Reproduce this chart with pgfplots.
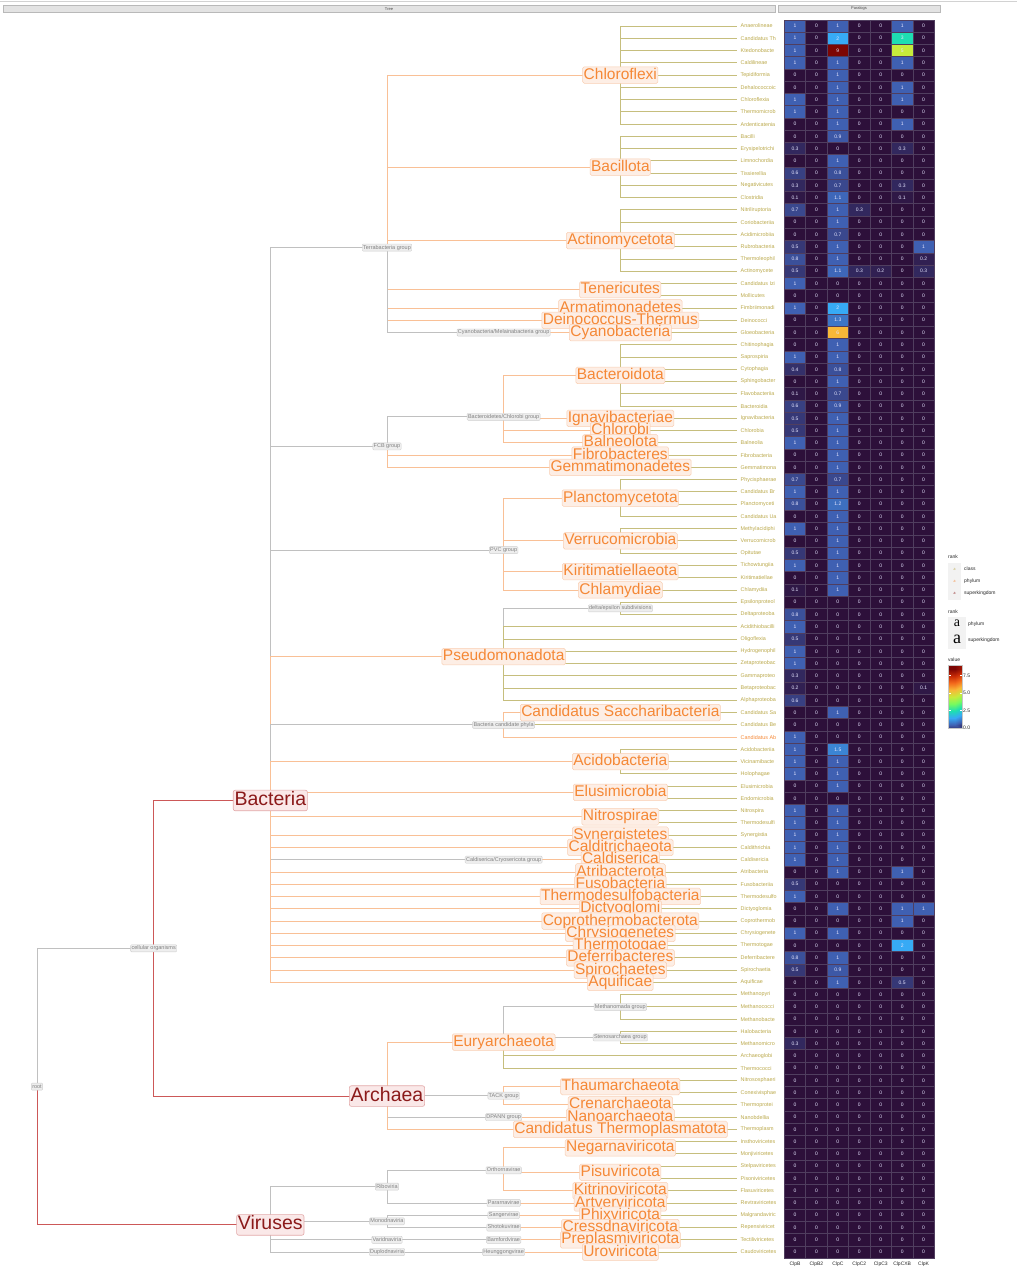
\documentclass[border=0pt]{standalone}
\usepackage{pgfplots}
\pgfplotsset{compat=1.18}
\usepackage{pgfplotstable}
\usepackage{fontspec}
\setmainfont{Liberation Sans}
\newfontfamily\keyserif{Liberation Serif}

\definecolor{skline}{RGB}{204,88,88}
\definecolor{phline}{RGB}{249,192,150}
\definecolor{clline}{RGB}{198,190,125}
\definecolor{nrline}{RGB}{192,192,192}
\definecolor{sktext}{RGB}{139,26,26}
\definecolor{skfill}{RGB}{250,232,232}
\definecolor{skbord}{RGB}{226,168,168}
\definecolor{phtext}{RGB}{245,136,54}
\definecolor{phfill}{RGB}{253,238,229}
\definecolor{phbord}{RGB}{249,206,178}
\definecolor{nrtext}{RGB}{128,128,128}
\definecolor{nrfill}{RGB}{238,238,238}
\definecolor{nrbord}{RGB}{206,206,206}
\definecolor{cltext}{RGB}{186,168,74}
\definecolor{cellline}{RGB}{80,62,95}

\pgfdeclareplotmark{cell}{%
  \pgfpathrectangle{\pgfqpoint{-10.714pt}{-6.13pt}}{\pgfqpoint{21.428pt}{12.26pt}}%
  \pgfusepathqfillstroke}
\pgfdeclareplotmark{blank}{}

\pgfplotsset{
  edgeSK/.style={draw=skline, line width=0.9pt, mark=none},
  edgePH/.style={draw=phline, line width=0.9pt, mark=none},
  edgeCL/.style={draw=clline, line width=0.9pt, mark=none},
  edgeNR/.style={draw=nrline, line width=0.9pt, mark=none},
  heatcells/.style={scatter, only marks, mark=cell, point meta=explicit,
    scatter/use mapped color={draw=cellline, fill=mapped color, line width=0.6pt}},
  heatnums/.style={only marks, mark=blank, point meta=explicit,
    nodes near coords,
    nodes near coords style={anchor=center, inner sep=0pt, text=white!90!blue,
      font=\fontsize{5}{5}\selectfont}},
  turbo/.style={colormap={turbo}{rgb255(0)=(45,16,58) rgb255(1)=(63,96,178) rgb255(2)=(55,170,245)
    rgb255(3)=(30,222,178) rgb255(4)=(118,250,96) rgb255(5)=(199,235,60)
    rgb255(6)=(248,184,56) rgb255(7)=(243,106,28) rgb255(8)=(200,42,6) rgb255(9)=(124,6,4)}},
}
\tikzset{
  skl/.style={fill=skfill, draw=skbord, text=sktext, font=\fontsize{19.5}{19.5}\selectfont,
    inner sep=1.3pt, rounded corners=2pt, line width=0.6pt, text height=14pt, text depth=4pt},
  phl/.style={fill=phfill, draw=phbord, text=phtext, font=\fontsize{15.5}{15.5}\selectfont,
    inner sep=1pt, rounded corners=1.5pt, line width=0.5pt, text height=11.3pt, text depth=3.2pt},
  nrl/.style={fill=nrfill, draw=nrbord, text=nrtext, font=\fontsize{5.5}{5.5}\selectfont,
    inner sep=0.9pt, rounded corners=1pt, line width=0.4pt, text height=4.1pt, text depth=1.2pt},
  lf/.style={anchor=west, text=cltext, font=\fontsize{5.4}{5.4}\selectfont, inner sep=0pt},
  lg/.style={anchor=west, font=\fontsize{5}{5}\selectfont, inner sep=0pt, text=black!85},
}

% tree edge: parent level, parent row, child level, child row
\newcommand{\tedge}[5]{\addplot[edge#1] coordinates {(#2,#3) (#2,#5) (#4,#5)};}
% class leaf hanging from a level-5 node
\newcommand{\lv}[2]{\addplot[edgeCL] coordinates {(5,#1) (5,#2) (6,#2)};}
\newcommand{\leaf}[2]{\node[lf] at (6.03,#1) {#2};}

% copy numbers per class (rows top to bottom)
\pgfplotstableread{
r   B    B2 C    C2   C3   CXB  K
1   1    0  1    0    0    1    0
2   1    0  2    0    0    3    0
3   1    0  9    0    0    5    0
4   1    0  1    0    0    1    0
5   0    0  1    0    0    0    0
6   0    0  1    0    0    1    0
7   1    0  1    0    0    1    0
8   1    0  1    0    0    0    0
9   0    0  1    0    0    1    0
10  0    0  0.9  0    0    0    0
11  0.3  0  0    0    0    0.3  0
12  0    0  1    0    0    0    0
13  0.6  0  0.8  0    0    0    0
14  0.3  0  0.7  0    0    0.3  0
15  0.1  0  1.1  0    0    0.1  0
16  0.7  0  1    0.3  0    0    0
17  0    0  1    0    0    0    0
18  0    0  0.7  0    0    0    0
19  0.5  0  1    0    0    0    1
20  0.8  0  1    0    0    0    0.2
21  0.5  0  1.1  0.3  0.2  0    0.3
22  1    0  0    0    0    0    0
23  0    0  0    0    0    0    0
24  1    0  2    0    0    0    0
25  0    0  1.3  0    0    0    0
26  0    0  6    0    0    0    0
27  0    0  1    0    0    0    0
28  1    0  1    0    0    0    0
29  0.4  0  0.8  0    0    0    0
30  0    0  1    0    0    0    0
31  0.1  0  0.7  0    0    0    0
32  0.6  0  0.9  0    0    0    0
33  0.5  0  1    0    0    0    0
34  0.5  0  1    0    0    0    0
35  1    0  1    0    0    0    0
36  0    0  1    0    0    0    0
37  0    0  1    0    0    0    0
38  0.7  0  0.7  0    0    0    0
39  1    0  1    0    0    0    0
40  0.8  0  1.2  0    0    0    0
41  0    0  1    0    0    0    0
42  1    0  1    0    0    0    0
43  0    0  1    0    0    0    0
44  0.5  0  1    0    0    0    0
45  1    0  1    0    0    0    0
46  0    0  1    0    0    0    0
47  0.1  0  1    0    0    0    0
48  0    0  0    0    0    0    0
49  0.8  0  0    0    0    0    0
50  1    0  0    0    0    0    0
51  0.5  0  0    0    0    0    0
52  1    0  0    0    0    0    0
53  1    0  0    0    0    0    0
54  0.3  0  0    0    0    0    0
55  0.2  0  0    0    0    0    0.1
56  0.6  0  0    0    0    0    0
57  0    0  1    0    0    0    0
58  0    0  0    0    0    0    0
59  1    0  0    0    0    0    0
60  1    0  1.5  0    0    0    0
61  1    0  1    0    0    0    0
62  1    0  1    0    0    0    0
63  0    0  1    0    0    0    0
64  0    0  0    0    0    0    0
65  1    0  1    0    0    0    0
66  1    0  1    0    0    0    0
67  1    0  1    0    0    0    0
68  1    0  1    0    0    0    0
69  1    0  1    0    0    0    0
70  0    0  1    0    0    1    0
71  0.5  0  0    0    0    0    0
72  1    0  0    0    0    0    0
73  0    0  1    0    0    1    1
74  0    0  0    0    0    1    0
75  1    0  1    0    0    0    0
76  0    0  0    0    0    2    0
77  0.8  0  1    0    0    0    0
78  0.5  0  0.9  0    0    0    0
79  0    0  1    0    0    0.5  0
80  0    0  0    0    0    0    0
81  0    0  0    0    0    0    0
82  0    0  0    0    0    0    0
83  0    0  0    0    0    0    0
84  0.3  0  0    0    0    0    0
85  0    0  0    0    0    0    0
86  0    0  0    0    0    0    0
87  0    0  0    0    0    0    0
88  0    0  0    0    0    0    0
89  0    0  0    0    0    0    0
90  0    0  0    0    0    0    0
91  0    0  0    0    0    0    0
92  0    0  0    0    0    0    0
93  0    0  0    0    0    0    0
94  0    0  0    0    0    0    0
95  0    0  0    0    0    0    0
96  0    0  0    0    0    0    0
97  0    0  0    0    0    0    0
98  0    0  0    0    0    0    0
99  0    0  0    0    0    0    0
100 0    0  0    0    0    0    0
101 0    0  0    0    0    0    0
}\heat

\begin{document}
\begin{tikzpicture}
\path[use as bounding box] (0pt,0pt) rectangle (1017pt,-1271pt);

% facet strips
\draw[gray!35, line width=1pt] (0pt,-1.5pt) -- (1017pt,-1.5pt);
\draw[fill=gray!22, draw=gray!55, line width=0.5pt] (3pt,-5pt) rectangle (775pt,-12.5pt);
\node[font=\fontsize{4}{4}\selectfont, text=black!70, inner sep=0pt] at (389pt,-8.75pt) {Tree};
\draw[fill=gray!22, draw=gray!55, line width=0.5pt] (778pt,-5pt) rectangle (940pt,-12.5pt);
\node[font=\fontsize{4}{4}\selectfont, text=black!70, inner sep=0pt] at (859pt,-8.75pt) {Paralogs};

\begin{axis}[
  at={(0pt,-19.87pt)}, anchor=north west, scale only axis,
  width=776pt, height=1238.26pt,
  xmin=-0.3171, xmax=6.3343, ymin=0.5, ymax=101.5, y dir=reverse,
  hide axis, clip=false,
]
% upper levels
\tedge{NR}{0}{87.51}{1}{76.225}
\tedge{SK}{0}{87.51}{2}{98.79}
\tedge{SK}{1}{76.225}{2}{64.17}
\tedge{SK}{1}{76.225}{3}{88.28}
% Bacteria
\tedge{NR}{2}{64.17}{3}{19.071}
\tedge{NR}{2}{64.17}{3}{35.292}
\tedge{NR}{2}{64.17}{4}{43.75}
\tedge{PH}{2}{64.17}{4}{52.4375}
\tedge{NR}{2}{64.17}{4}{58}
\tedge{PH}{2}{64.17}{5}{61}
\tedge{PH}{2}{64.17}{5}{63.5}
\tedge{PH}{2}{64.17}{5}{65.5}
\tedge{PH}{2}{64.17}{5}{67}
\tedge{PH}{2}{64.17}{5}{68}
\tedge{NR}{2}{64.17}{4}{69}
\tedge{PH}{2}{64.17}{5}{70}
\tedge{PH}{2}{64.17}{5}{71}
\tedge{PH}{2}{64.17}{5}{72}
\tedge{PH}{2}{64.17}{5}{73}
\tedge{PH}{2}{64.17}{5}{74}
\tedge{PH}{2}{64.17}{5}{75}
\tedge{PH}{2}{64.17}{5}{76}
\tedge{PH}{2}{64.17}{5}{77}
\tedge{PH}{2}{64.17}{5}{78}
\tedge{PH}{2}{64.17}{5}{79}
% Terrabacteria group
\tedge{PH}{3}{19.071}{5}{5}
\tedge{PH}{3}{19.071}{5}{12.5}
\tedge{PH}{3}{19.071}{5}{18.5}
\tedge{PH}{3}{19.071}{5}{22.5}
\tedge{PH}{3}{19.071}{5}{24}
\tedge{PH}{3}{19.071}{5}{25}
\tedge{NR}{3}{19.071}{4}{26}
\tedge{PH}{4}{26}{5}{26}
\lv{5}{1}\lv{5}{2}\lv{5}{3}\lv{5}{4}\lv{5}{5}\lv{5}{6}\lv{5}{7}\lv{5}{8}\lv{5}{9}
\lv{12.5}{10}\lv{12.5}{11}\lv{12.5}{12}\lv{12.5}{13}\lv{12.5}{14}\lv{12.5}{15}
\lv{18.5}{16}\lv{18.5}{17}\lv{18.5}{18}\lv{18.5}{19}\lv{18.5}{20}\lv{18.5}{21}
\lv{22.5}{22}\lv{22.5}{23}\lv{24}{24}\lv{25}{25}\lv{26}{26}
% FCB group
\tedge{NR}{3}{35.292}{4}{32.875}
\tedge{PH}{3}{35.292}{5}{36}
\tedge{PH}{3}{35.292}{5}{37}
\tedge{PH}{4}{32.875}{5}{29.5}
\tedge{PH}{4}{32.875}{5}{33}
\tedge{PH}{4}{32.875}{5}{34}
\tedge{PH}{4}{32.875}{5}{35}
\lv{29.5}{27}\lv{29.5}{28}\lv{29.5}{29}\lv{29.5}{30}\lv{29.5}{31}\lv{29.5}{32}
\lv{33}{33}\lv{34}{34}\lv{35}{35}\lv{36}{36}\lv{37}{37}
% PVC group
\tedge{PH}{4}{43.75}{5}{39.5}
\tedge{PH}{4}{43.75}{5}{43}
\tedge{PH}{4}{43.75}{5}{45.5}
\tedge{PH}{4}{43.75}{5}{47}
\lv{39.5}{38}\lv{39.5}{39}\lv{39.5}{40}\lv{39.5}{41}
\lv{43}{42}\lv{43}{43}\lv{43}{44}\lv{45.5}{45}\lv{45.5}{46}\lv{47}{47}
% Pseudomonadota
\tedge{NR}{4}{52.4375}{5}{48.5}
\lv{48.5}{48}\lv{48.5}{49}
\tedge{CL}{4}{52.4375}{6}{50}
\tedge{CL}{4}{52.4375}{6}{51}
\tedge{CL}{4}{52.4375}{6}{52}
\tedge{CL}{4}{52.4375}{6}{53}
\tedge{CL}{4}{52.4375}{6}{54}
\tedge{CL}{4}{52.4375}{6}{55}
\tedge{CL}{4}{52.4375}{6}{56}
% Bacteria candidate phyla
\tedge{PH}{4}{58}{5}{57}
\lv{57}{57}
\tedge{CL}{4}{58}{6}{58}
\tedge{PH}{4}{58}{6}{59}
% single phyla
\lv{61}{60}\lv{61}{61}\lv{61}{62}\lv{63.5}{63}\lv{63.5}{64}\lv{65.5}{65}\lv{65.5}{66}
\lv{67}{67}\lv{68}{68}
\tedge{PH}{4}{69}{5}{69}
\lv{69}{69}\lv{70}{70}\lv{71}{71}\lv{72}{72}\lv{73}{73}\lv{74}{74}\lv{75}{75}
\lv{76}{76}\lv{77}{77}\lv{78}{78}\lv{79}{79}
% Archaea
\tedge{PH}{3}{88.28}{4}{83.875}
\tedge{NR}{3}{88.28}{4}{88.25}
\tedge{NR}{3}{88.28}{4}{90}
\tedge{PH}{3}{88.28}{5}{91}
\tedge{NR}{4}{83.875}{5}{81}
\tedge{NR}{4}{83.875}{5}{83.5}
\tedge{CL}{4}{83.875}{6}{85}
\tedge{CL}{4}{83.875}{6}{86}
\lv{81}{80}\lv{81}{81}\lv{81}{82}\lv{83.5}{83}\lv{83.5}{84}
\tedge{PH}{4}{88.25}{5}{87.5}
\tedge{PH}{4}{88.25}{5}{89}
\lv{87.5}{87}\lv{87.5}{88}\lv{89}{89}
\tedge{PH}{4}{90}{5}{90}
\lv{90}{90}\lv{91}{91}
% Viruses
\tedge{NR}{2}{98.79}{3}{95.667}
\tedge{NR}{2}{98.79}{3}{98.5}
\tedge{NR}{2}{98.79}{3}{100}
\tedge{NR}{2}{98.79}{3}{101}
\tedge{NR}{3}{95.667}{4}{94.333}
\tedge{NR}{3}{95.667}{4}{97}
\tedge{PH}{4}{94.333}{5}{92.5}
\tedge{PH}{4}{94.333}{5}{94.5}
\tedge{PH}{4}{94.333}{5}{96}
\tedge{PH}{4}{97}{5}{97}
\tedge{NR}{3}{98.5}{4}{98}
\tedge{NR}{3}{98.5}{4}{99}
\tedge{PH}{4}{98}{5}{98}
\tedge{PH}{4}{99}{5}{99}
\tedge{NR}{3}{100}{4}{100}
\tedge{PH}{4}{100}{5}{100}
\tedge{NR}{3}{101}{4}{101}
\tedge{PH}{4}{101}{5}{101}
\lv{92.5}{92}\lv{92.5}{93}\lv{94.5}{94}\lv{94.5}{95}\lv{96}{96}\lv{97}{97}
\lv{98}{98}\lv{99}{99}\lv{100}{100}\lv{101}{101}

% leaf labels
\leaf{1}{Anaerolineae}
\leaf{2}{Candidatus Th}
\leaf{3}{Ktedonobacte}
\leaf{4}{Caldilineae}
\leaf{5}{Tepidiformia}
\leaf{6}{Dehalococcoic}
\leaf{7}{Chloroflexia}
\leaf{8}{Thermomicrob}
\leaf{9}{Ardenticatenia}
\leaf{10}{Bacilli}
\leaf{11}{Erysipelotrichi}
\leaf{12}{Limnochordia}
\leaf{13}{Tissierellia}
\leaf{14}{Negativicutes}
\leaf{15}{Clostridia}
\leaf{16}{Nitriliruptoria}
\leaf{17}{Coriobacteriia}
\leaf{18}{Acidimicrobiia}
\leaf{19}{Rubrobacteria}
\leaf{20}{Thermoleophil}
\leaf{21}{Actinomycete}
\leaf{22}{Candidatus Izi}
\leaf{23}{Mollicutes}
\leaf{24}{Fimbriimonadi}
\leaf{25}{Deinococci}
\leaf{26}{Gloeobacteria}
\leaf{27}{Chitinophagia}
\leaf{28}{Saprospiria}
\leaf{29}{Cytophagia}
\leaf{30}{Sphingobacter}
\leaf{31}{Flavobacteriia}
\leaf{32}{Bacteroidia}
\leaf{33}{Ignavibacteria}
\leaf{34}{Chlorobia}
\leaf{35}{Balneolia}
\leaf{36}{Fibrobacteria}
\leaf{37}{Gemmatimona}
\leaf{38}{Phycisphaerae}
\leaf{39}{Candidatus Br}
\leaf{40}{Planctomyceti}
\leaf{41}{Candidatus Ua}
\leaf{42}{Methylacidiphi}
\leaf{43}{Verrucomicrob}
\leaf{44}{Opitutae}
\leaf{45}{Tichowtungiia}
\leaf{46}{Kiritimatiellae}
\leaf{47}{Chlamydiia}
\leaf{48}{Epsilonproteol}
\leaf{49}{Deltaproteoba}
\leaf{50}{Acidithiobacilli}
\leaf{51}{Oligoflexia}
\leaf{52}{Hydrogenophil}
\leaf{53}{Zetaproteobac}
\leaf{54}{Gammaproteo}
\leaf{55}{Betaproteobac}
\leaf{56}{Alphaproteoba}
\leaf{57}{Candidatus Sa}
\leaf{58}{Candidatus Be}
\node[lf, text=phtext] at (6.03,59) {Candidatus Ab};
\leaf{60}{Acidobacteriia}
\leaf{61}{Vicinamibacte}
\leaf{62}{Holophagae}
\leaf{63}{Elusimicrobia}
\leaf{64}{Endomicrobia}
\leaf{65}{Nitrospira}
\leaf{66}{Thermodesulfi}
\leaf{67}{Synergistia}
\leaf{68}{Caldithrichia}
\leaf{69}{Caldisericia}
\leaf{70}{Atribacteria}
\leaf{71}{Fusobacteriia}
\leaf{72}{Thermodesulfo}
\leaf{73}{Dictyoglomia}
\leaf{74}{Coprothermob}
\leaf{75}{Chrysiogenete}
\leaf{76}{Thermotogae}
\leaf{77}{Deferribactere}
\leaf{78}{Spirochaetia}
\leaf{79}{Aquificae}
\leaf{80}{Methanopyri}
\leaf{81}{Methanococci}
\leaf{82}{Methanobacte}
\leaf{83}{Halobacteria}
\leaf{84}{Methanomicro}
\leaf{85}{Archaeoglobi}
\leaf{86}{Thermococci}
\leaf{87}{Nitrososphaeri}
\leaf{88}{Conexivisphae}
\leaf{89}{Thermoprotei}
\leaf{90}{Nanobdellia}
\leaf{91}{Thermoplasm}
\leaf{92}{Insthoviricetes}
\leaf{93}{Monjiviricetes}
\leaf{94}{Stelpaviricetes}
\leaf{95}{Pisoniviricetes}
\leaf{96}{Flasuviricetes}
\leaf{97}{Revtraviricetes}
\leaf{98}{Malgrandaviric}
\leaf{99}{Repensiviricet}
\leaf{100}{Tectiliviricetes}
\leaf{101}{Caudoviricetes}

% no-rank labels
\node[nrl] at (0,87.51) {root};
\node[nrl] at (1,76.225) {cellular organisms};
\node[nrl] at (3,19.071) {Terrabacteria group};
\node[nrl] at (4,26) {Cyanobacteria/Melainabacteria group};
\node[nrl] at (3,35.292) {FCB group};
\node[nrl] at (4,32.875) {Bacteroidetes/Chlorobi group};
\node[nrl] at (4,43.75) {PVC group};
\node[nrl] at (5,48.5) {delta/epsilon subdivisions};
\node[nrl] at (4,58) {Bacteria candidate phyla};
\node[nrl] at (4,69) {Caldiserica/Cryosericota group};
\node[nrl] at (5,81) {Methanomada group};
\node[nrl] at (5,83.5) {Stenosarchaea group};
\node[nrl] at (4,88.25) {TACK group};
\node[nrl] at (4,90) {DPANN group};
\node[nrl] at (3,95.667) {Riboviria};
\node[nrl] at (4,94.333) {Orthornavirae};
\node[nrl] at (4,97) {Pararnavirae};
\node[nrl] at (3,98.5) {Monodnaviria};
\node[nrl] at (4,98) {Sangervirae};
\node[nrl] at (4,99) {Shotokuvirae};
\node[nrl] at (3,100) {Varidnaviria};
\node[nrl] at (4,100) {Bamfordvirae};
\node[nrl] at (3,101) {Duplodnaviria};
\node[nrl] at (4,101) {Heunggongvirae};

% phylum labels
\node[phl] at (5,5) {Chloroflexi};
\node[phl] at (5,12.5) {Bacillota};
\node[phl] at (5,18.5) {Actinomycetota};
\node[phl] at (5,22.5) {Tenericutes};
\node[phl] at (5,24) {Armatimonadetes};
\node[phl] at (5,25) {Deinococcus-Thermus};
\node[phl] at (5,26) {Cyanobacteria};
\node[phl] at (5,29.5) {Bacteroidota};
\node[phl] at (5,33) {Ignavibacteriae};
\node[phl] at (5,34) {Chlorobi};
\node[phl] at (5,35) {Balneolota};
\node[phl] at (5,36) {Fibrobacteres};
\node[phl] at (5,37) {Gemmatimonadetes};
\node[phl] at (5,39.5) {Planctomycetota};
\node[phl] at (5,43) {Verrucomicrobia};
\node[phl] at (5,45.5) {Kiritimatiellaeota};
\node[phl] at (5,47) {Chlamydiae};
\node[phl] at (4,52.4375) {Pseudomonadota};
\node[phl] at (5,57) {Candidatus Saccharibacteria};
\node[phl] at (5,61) {Acidobacteria};
\node[phl] at (5,63.5) {Elusimicrobia};
\node[phl] at (5,65.5) {Nitrospirae};
\node[phl] at (5,67) {Synergistetes};
\node[phl] at (5,68) {Calditrichaeota};
\node[phl] at (5,69) {Caldiserica};
\node[phl] at (5,70) {Atribacterota};
\node[phl] at (5,71) {Fusobacteria};
\node[phl] at (5,72) {Thermodesulfobacteria};
\node[phl] at (5,73) {Dictyoglomi};
\node[phl] at (5,74) {Coprothermobacterota};
\node[phl] at (5,75) {Chrysiogenetes};
\node[phl] at (5,76) {Thermotogae};
\node[phl] at (5,77) {Deferribacteres};
\node[phl] at (5,78) {Spirochaetes};
\node[phl] at (5,79) {Aquificae};
\node[phl] at (4,83.875) {Euryarchaeota};
\node[phl] at (5,87.5) {Thaumarchaeota};
\node[phl] at (5,89) {Crenarchaeota};
\node[phl] at (5,90) {Nanoarchaeota};
\node[phl] at (5,91) {Candidatus Thermoplasmatota};
\node[phl] at (5,92.5) {Negarnaviricota};
\node[phl] at (5,94.5) {Pisuviricota};
\node[phl] at (5,96) {Kitrinoviricota};
\node[phl] at (5,97) {Artverviricota};
\node[phl] at (5,98) {Phixviricota};
\node[phl] at (5,99) {Cressdnaviricota};
\node[phl] at (5,100) {Preplasmiviricota};
\node[phl] at (5,101) {Uroviricota};

% superkingdom labels
\node[skl] at (2,64.17) {Bacteria};
\node[skl] at (3,88.28) {Archaea};
\node[skl] at (2,98.79) {Viruses};
\end{axis}

% heatmap of paralog copy numbers
\begin{axis}[
  at={(784.3pt,-19.87pt)}, anchor=north west, scale only axis,
  width=150pt, height=1238.26pt,
  xmin=0.5, xmax=7.5, ymin=0.5, ymax=101.5, y dir=reverse,
  clip=false, axis line style={draw=none}, tick style={draw=none},
  ytick=\empty, xtick={1,...,7},
  xticklabels={ClpB,ClpB2,ClpC,ClpC2,ClpC3,ClpCXB,ClpK},
  xticklabel style={font=\fontsize{5}{5}\selectfont, inner sep=1pt, text=black!85, yshift=-3pt},
  /pgf/number format/assume math mode=true,
  turbo, point meta min=0, point meta max=9,
]
\addplot[heatcells] table[x expr=1, y=r, meta=B] {\heat};
\addplot[heatcells] table[x expr=2, y=r, meta=B2] {\heat};
\addplot[heatcells] table[x expr=3, y=r, meta=C] {\heat};
\addplot[heatcells] table[x expr=4, y=r, meta=C2] {\heat};
\addplot[heatcells] table[x expr=5, y=r, meta=C3] {\heat};
\addplot[heatcells] table[x expr=6, y=r, meta=CXB] {\heat};
\addplot[heatcells] table[x expr=7, y=r, meta=K] {\heat};
\addplot[heatnums] table[x expr=1, y=r, meta=B] {\heat};
\addplot[heatnums] table[x expr=2, y=r, meta=B2] {\heat};
\addplot[heatnums] table[x expr=3, y=r, meta=C] {\heat};
\addplot[heatnums] table[x expr=4, y=r, meta=C2] {\heat};
\addplot[heatnums] table[x expr=5, y=r, meta=C3] {\heat};
\addplot[heatnums] table[x expr=6, y=r, meta=CXB] {\heat};
\addplot[heatnums] table[x expr=7, y=r, meta=K] {\heat};
\end{axis}

% colour bar for "value"
\begin{axis}[
  at={(948pt,-665pt)}, anchor=north west, scale only axis,
  width=14pt, height=63pt,
  xmin=0, xmax=1, ymin=0, ymax=9,
  xtick=\empty, ytick={0,2.5,5,7.5}, yticklabel pos=right,
  tick align=inside, major tick length=2.5pt, tick style={draw=white, line width=0.5pt},
  axis line style={draw=gray!45, line width=0.5pt},
  yticklabel style={font=\fontsize{5}{5}\selectfont, inner sep=1pt, text=black!85,
    /pgf/number format/fixed, /pgf/number format/fixed zerofill,
    /pgf/number format/precision=1},
  /pgf/number format/assume math mode=true,
  turbo, point meta min=0, point meta max=9,
  axis on top,
]
\addplot[matrix plot*, shader=interp, mesh/cols=2, point meta=explicit] coordinates {
  (0,0) [0] (1,0) [0]
  (0,1) [1] (1,1) [1]
  (0,2) [2] (1,2) [2]
  (0,3) [3] (1,3) [3]
  (0,4) [4] (1,4) [4]
  (0,5) [5] (1,5) [5]
  (0,6) [6] (1,6) [6]
  (0,7) [7] (1,7) [7]
  (0,8) [8] (1,8) [8]
  (0,9) [9] (1,9) [9]
};
\end{axis}

% legends
\node[lg] at (948pt,-557pt) {rank};
\fill[gray!10] (948pt,-563pt) rectangle (961pt,-600pt);
\node[font=\fontsize{4.5}{4.5}\selectfont\keyserif, text=cltext, inner sep=0pt] at (954.5pt,-569pt) {a};
\node[font=\fontsize{4.5}{4.5}\selectfont\keyserif, text=phtext, inner sep=0pt] at (954.5pt,-581.5pt) {a};
\node[font=\fontsize{4.5}{4.5}\selectfont\keyserif, text=sktext, inner sep=0pt] at (954.5pt,-593.5pt) {a};
\node[lg] at (964pt,-569pt) {class};
\node[lg] at (964pt,-581.5pt) {phylum};
\node[lg] at (964pt,-593.5pt) {superkingdom};

\node[lg] at (948pt,-612pt) {rank};
\fill[gray!10] (948pt,-616.5pt) rectangle (965.5pt,-649pt);
\node[font=\fontsize{14}{14}\selectfont\keyserif, inner sep=0pt] at (957pt,-623.5pt) {a};
\node[font=\fontsize{18}{18}\selectfont\keyserif, inner sep=0pt] at (957pt,-639.5pt) {a};
\node[lg] at (968pt,-624pt) {phylum};
\node[lg] at (968pt,-640pt) {superkingdom};

\node[lg] at (948pt,-659.5pt) {value};
\end{tikzpicture}
\end{document}
